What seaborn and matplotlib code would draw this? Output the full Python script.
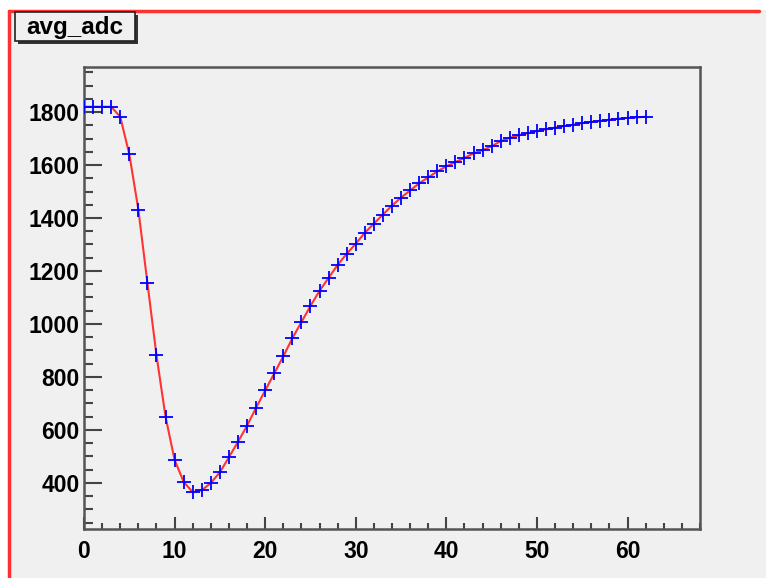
import matplotlib
matplotlib.use("Agg")
import matplotlib.pyplot as plt
import seaborn as sns
import pandas as pd
from matplotlib.patches import Rectangle
from matplotlib.ticker import MultipleLocator, FixedLocator

sns.set_theme(style="white")
plt.rcParams['font.family'] = ['Liberation Sans', 'DejaVu Sans']

title = "avg_adc"
sample = list(range(0, 63))
avg_adc = [1820, 1820, 1820, 1820, 1782, 1641, 1432, 1155, 882, 650,
           487, 404, 365, 372, 400, 440, 497, 555, 616, 684,
           749, 813, 878, 946, 1007, 1068, 1125, 1174, 1223, 1265,
           1303, 1344, 1379, 1413, 1447, 1477, 1504, 1531, 1553, 1576,
           1595, 1611, 1627, 1644, 1656, 1671, 1690, 1703, 1712, 1720,
           1728, 1735, 1741, 1747, 1752, 1758, 1763, 1767, 1771, 1775,
           1778, 1780, 1782]
x_major = [0, 10, 20, 30, 40, 50, 60]
y_major = [400, 600, 800, 1000, 1200, 1400, 1600, 1800]

df = pd.DataFrame({"sample": sample, "avg_adc": avg_adc})

W, H = 766, 578
fig = plt.figure(figsize=(W / 100, H / 100), dpi=100)
fig.patch.set_facecolor("#f0f0f0")

# white margins + red frame (top and left)
fig.patches.append(Rectangle((0, 1 - 10 / H), 1, 10 / H, transform=fig.transFigure,
                             facecolor="white", edgecolor="none", zorder=0))
fig.patches.append(Rectangle((0, 0), 8 / W, 1, transform=fig.transFigure,
                             facecolor="white", edgecolor="none", zorder=0))
fig.add_artist(plt.Line2D([9 / W, 759 / W], [1 - 10.5 / H, 1 - 10.5 / H],
                          transform=fig.transFigure, color="#ff3030", lw=2.5))
fig.add_artist(plt.Line2D([9 / W, 9 / W], [0, 1 - 10.5 / H],
                          transform=fig.transFigure, color="#ff3030", lw=2.5))

ax = fig.add_axes([84 / W, (H - 529) / H, 616 / W, 462 / H])
ax.set_facecolor("#f0f0f0")

sns.lineplot(data=df, x="sample", y="avg_adc", color="#ff3333", lw=1.5, ax=ax, zorder=2)
sns.lineplot(data=df, x="sample", y="avg_adc", color="#0000ff", linestyle="", marker="+",
             markersize=9.5, markeredgewidth=1.3, markeredgecolor="#0000ff", ax=ax, zorder=3)

ax.set_xlim(0, 68)
ax.set_ylim(226, 1970)
ax.xaxis.set_major_locator(FixedLocator(x_major))
ax.xaxis.set_minor_locator(MultipleLocator(2))
ax.yaxis.set_major_locator(FixedLocator(y_major))
ax.yaxis.set_minor_locator(MultipleLocator(50))
ax.set_xlabel("")
ax.set_ylabel("")

tc = "#444444"
ax.tick_params(axis="y", which="major", direction="in", length=13, width=1.5, color=tc,
               labelsize=16.5, pad=3, left=True)
ax.tick_params(axis="y", which="minor", direction="in", length=6.5, width=1.5, color=tc, left=True)
ax.tick_params(axis="x", which="major", direction="in", length=8.6, width=1.5, color=tc,
               labelsize=16.5, pad=8, bottom=True)
ax.tick_params(axis="x", which="minor", direction="in", length=4.3, width=1.5, color=tc, bottom=True)
for lab in ax.get_xticklabels() + ax.get_yticklabels():
    lab.set_fontweight("bold")
    lab.set_color("black")
for s in ax.spines.values():
    s.set_visible(True)
    s.set_color("#555555")
    s.set_linewidth(1.8)

# title box with shadow
bx0, by0, bw, bh = 15, 12, 120, 29
fig.patches.append(Rectangle(((bx0 + 2.5) / W, 1 - (by0 + bh + 2.5) / H), bw / W, bh / H,
                             transform=fig.transFigure, facecolor="#333333", edgecolor="none", zorder=5))
fig.patches.append(Rectangle((bx0 / W, 1 - (by0 + bh) / H), bw / W, bh / H,
                             transform=fig.transFigure, facecolor="#f0f0f0", edgecolor="#222222",
                             lw=1.2, zorder=6))
fig.text((bx0 + bw / 2) / W, 1 - (by0 + bh / 2 + 1) / H, title, ha="center", va="center",
         fontsize=17.5, fontweight="bold", color="black", zorder=7)

fig.savefig("out.png", dpi=100, facecolor=fig.get_facecolor())
